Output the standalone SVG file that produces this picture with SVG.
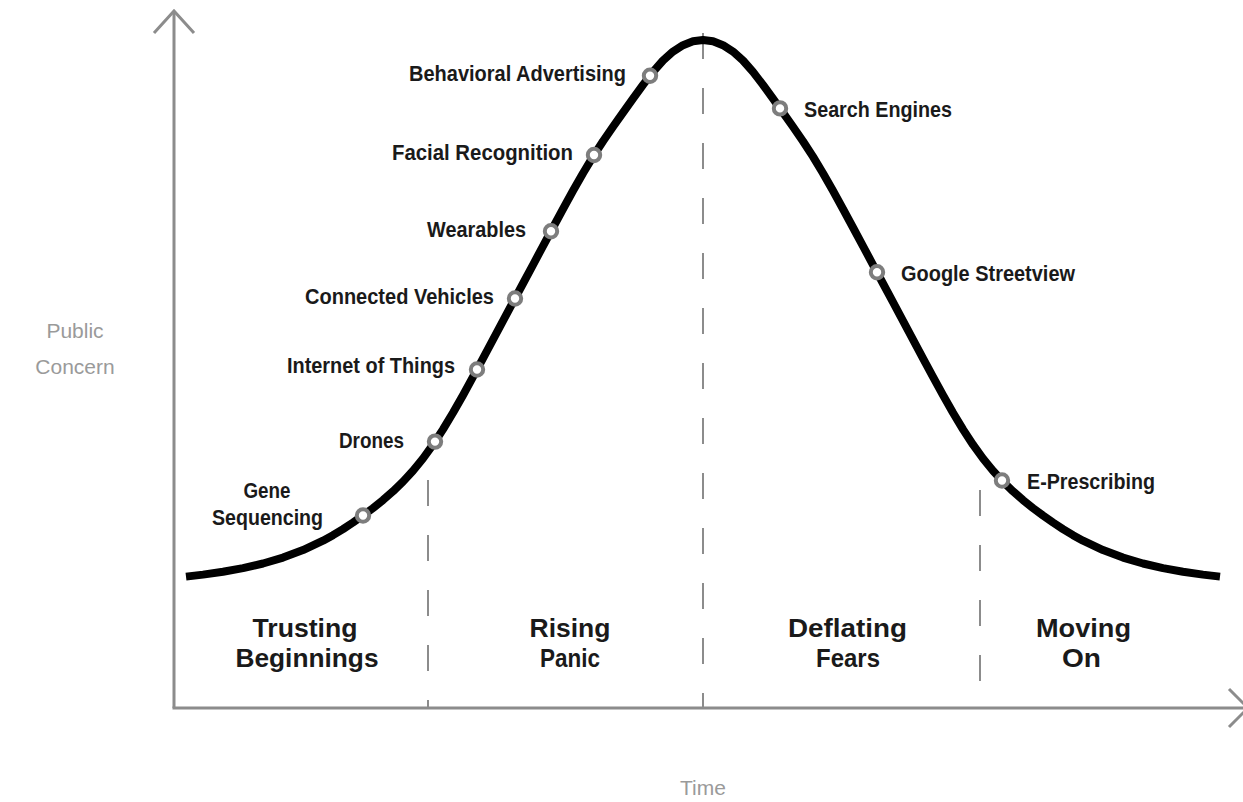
<svg xmlns="http://www.w3.org/2000/svg" width="1243" height="802" viewBox="0 0 1243 802">
<style>
.axis{fill:none;stroke:#8c8c8c;stroke-width:3;stroke-linejoin:miter}
.div{fill:none;stroke:#8c8c8c;stroke-width:2;stroke-dasharray:26 29}
.curve{fill:none;stroke:#000;stroke-width:8;stroke-linejoin:round;stroke-linecap:butt}
.dot{fill:#fff;stroke:#7d7d7d;stroke-width:4}
.lbl{font-family:"Liberation Sans",Arial,sans-serif;font-weight:bold;font-size:22px;fill:#1a1a1a}
.phase{font-family:"Liberation Sans",Arial,sans-serif;font-weight:bold;font-size:25px;fill:#1a1a1a;text-anchor:middle}
.ax{font-family:"Liberation Sans",Arial,sans-serif;font-size:21px;fill:#9a9a9a;text-anchor:middle}
</style>
<rect width="1243" height="802" fill="#fff"/>
<g id="axes">
<line class="axis" x1="174" y1="12" x2="174" y2="708"/>
<polyline class="axis" points="154,33 174,11 194,33"/>
<line class="axis" x1="172.5" y1="708" x2="1246" y2="708"/>
<polyline class="axis" points="1229,689 1248,708 1229,727"/>
<text class="ax" x="75" y="338">Public</text>
<text class="ax" x="75" y="374">Concern</text>
<text class="ax" x="703" y="795">Time</text>
</g>
<g id="dividers">
<line class="div" x1="428" y1="480" x2="428" y2="708"/>
<line class="div" x1="703" y1="33" x2="703" y2="708"/>
<line class="div" x1="980" y1="490" x2="980" y2="708"/>
</g>
<g id="phases">
<text class="phase" x="305" y="637" textLength="105" lengthAdjust="spacingAndGlyphs">Trusting</text>
<text class="phase" x="307" y="667" textLength="143" lengthAdjust="spacingAndGlyphs">Beginnings</text>
<text class="phase" x="570" y="637" textLength="81" lengthAdjust="spacingAndGlyphs">Rising</text>
<text class="phase" x="570" y="667" textLength="60" lengthAdjust="spacingAndGlyphs">Panic</text>
<text class="phase" x="847.5" y="637" textLength="119" lengthAdjust="spacingAndGlyphs">Deflating</text>
<text class="phase" x="848" y="667" textLength="64" lengthAdjust="spacingAndGlyphs">Fears</text>
<text class="phase" x="1083.5" y="637" textLength="95" lengthAdjust="spacingAndGlyphs">Moving</text>
<text class="phase" x="1081.5" y="667" textLength="39" lengthAdjust="spacingAndGlyphs">On</text>
</g>
<g id="connectors">
<polyline class="curve" points="186,576.6 203,574.6 223,571.7 243,568.1 263,563.5 283,557.6 303,550.1 323,540.7 333,535.2 343,529.1 353,522.5 363,515.5 373,508.1 383,500.1 393,491.3 403,481.6 413,470.7 423,458.5 433,444.7 443,429.4 453,412.8 463,395.2 473,376.9 483,358.3 493,339.6 503,320.9 513,302.2 523,283.5 533,264.8 543,246.1 553,227.5 563,209 573,190.8 583,173.2 593,156.6 603,141.2 613,126.7 623,112.6 633,98.7 643,84.9 653,71.9 663,60.5 673,51.6 683,45.2 693,41.3 703,40 713,41.3 723,45.2 733,51.6 743,60.5 753,71.9 763,84.9 773,98.7 783,112.6 793,126.7 803,141.2 813,156.6 823,173.2 833,190.8 843,209 853,227.5 863,246.1 873,264.8 883,283.5 893,302.2 903,320.9 913,339.6 923,358.3 933,376.9 943,395.2 953,412.8 963,429.4 973,444.7 983,458.5 993,470.7 1003,481.6 1013,491.3 1023,500.1 1033,508.1 1043,515.5 1053,522.5 1063,529.1 1073,535.2 1083,540.7 1103,550.1 1123,557.6 1143,563.5 1163,568.1 1183,571.7 1203,574.6 1220,576.6"/>
</g>
<g id="node-gene-sequencing">
<circle class="dot" cx="363" cy="515.5" r="6.2"/>
<text class="lbl" x="243.5" y="498" textLength="47" lengthAdjust="spacingAndGlyphs">Gene</text>
<text class="lbl" x="212" y="525" textLength="111" lengthAdjust="spacingAndGlyphs">Sequencing</text>
</g>
<g id="node-drones">
<circle class="dot" cx="435" cy="441.6" r="6.2"/>
<text class="lbl" x="339" y="448" textLength="65" lengthAdjust="spacingAndGlyphs">Drones</text>
</g>
<g id="node-internet-of-things">
<circle class="dot" cx="477" cy="369.5" r="6.2"/>
<text class="lbl" x="287" y="373" textLength="168" lengthAdjust="spacingAndGlyphs">Internet of Things</text>
</g>
<g id="node-connected-vehicles">
<circle class="dot" cx="515" cy="298.5" r="6.2"/>
<text class="lbl" x="305" y="304" textLength="189" lengthAdjust="spacingAndGlyphs">Connected Vehicles</text>
</g>
<g id="node-wearables">
<circle class="dot" cx="551" cy="231.2" r="6.2"/>
<text class="lbl" x="427" y="237" textLength="99" lengthAdjust="spacingAndGlyphs">Wearables</text>
</g>
<g id="node-facial-recognition">
<circle class="dot" cx="594" cy="155" r="6.2"/>
<text class="lbl" x="392" y="160" textLength="181" lengthAdjust="spacingAndGlyphs">Facial Recognition</text>
</g>
<g id="node-behavioral-advertising">
<circle class="dot" cx="650" cy="75.8" r="6.2"/>
<text class="lbl" x="409" y="81" textLength="217" lengthAdjust="spacingAndGlyphs">Behavioral Advertising</text>
</g>
<g id="node-search-engines">
<circle class="dot" cx="780" cy="108.4" r="6.2"/>
<text class="lbl" x="804" y="117" textLength="148" lengthAdjust="spacingAndGlyphs">Search Engines</text>
</g>
<g id="node-google-streetview">
<circle class="dot" cx="877" cy="272.3" r="6.2"/>
<text class="lbl" x="901" y="281" textLength="174" lengthAdjust="spacingAndGlyphs">Google Streetview</text>
</g>
<g id="node-e-prescribing">
<circle class="dot" cx="1002" cy="480.5" r="6.2"/>
<text class="lbl" x="1027" y="489" textLength="128" lengthAdjust="spacingAndGlyphs">E-Prescribing</text>
</g>
</svg>
